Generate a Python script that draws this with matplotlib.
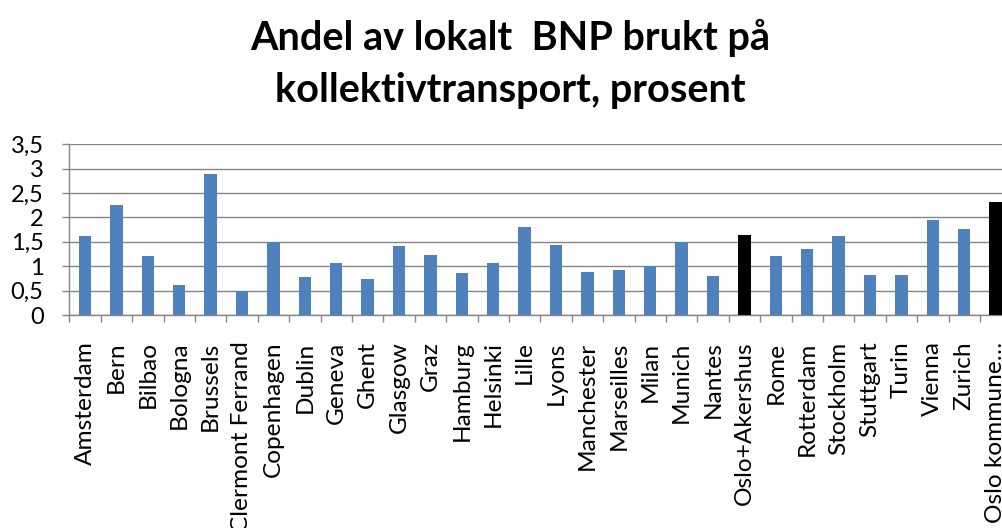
import matplotlib.pyplot as plt
from matplotlib.ticker import FixedLocator

cities = ['Amsterdam', 'Bern', 'Bilbao', 'Bologna', 'Brussels', 'Clermont Ferrand',
          'Copenhagen', 'Dublin', 'Geneva', 'Ghent', 'Glasgow', 'Graz', 'Hamburg',
          'Helsinki', 'Lille', 'Lyons', 'Manchester', 'Marseilles', 'Milan', 'Munich',
          'Nantes', 'Oslo+Akershus', 'Rome', 'Rotterdam', 'Stockholm', 'Stuttgart',
          'Turin', 'Vienna', 'Zurich', 'Oslo kommune…']
share = [1.61, 2.25, 1.20, 0.62, 2.90, 0.50, 1.50, 0.77, 1.06, 0.73, 1.41, 1.24, 0.86,
         1.06, 1.80, 1.43, 0.88, 0.93, 1.00, 1.50, 0.80, 1.65, 1.20, 1.35, 1.63, 0.82,
         0.81, 1.95, 1.76, 2.31]
highlight = ['Oslo+Akershus', 'Oslo kommune…']
y_ticks = [0, 0.5, 1, 1.5, 2, 2.5, 3, 3.5]
y_labels = ['0', '0,5', '1', '1,5', '2', '2,5', '3', '3,5']

plt.rcParams['font.family'] = ['Lato', 'DejaVu Sans']
grey = '#868686'

fig = plt.figure(figsize=(10.03, 5.28), dpi=100)
ax = fig.add_axes([69.3 / 1003, 213 / 528, 942 / 1003, 170.7 / 528])

colors = ['#000000' if c in highlight else '#4F81BD' for c in cities]
x = list(range(len(cities)))
ax.bar(x, share, width=0.4, color=colors, zorder=3)

ax.set_xlim(-0.5, len(cities) - 0.5)
ax.set_ylim(0, 3.5)
ax.set_yticks(y_ticks)
ax.set_yticklabels(y_labels)
ax.set_xticks(x)
ax.set_xticklabels(cities, rotation=90)
ax.xaxis.set_minor_locator(FixedLocator([i - 0.5 for i in range(len(cities) + 1)]))

ax.grid(axis='y', color=grey, linewidth=1.0, zorder=0)
ax.tick_params(axis='y', length=5, width=1, color=grey, pad=13.5, labelsize=17)
ax.tick_params(axis='x', which='major', length=0, pad=19, labelsize=17.6)
ax.tick_params(axis='x', which='minor', length=5, width=1, color=grey)

for side in ['top', 'right']:
    ax.spines[side].set_visible(False)
for side in ['left', 'bottom']:
    ax.spines[side].set_color(grey)
    ax.spines[side].set_linewidth(1.0)

# title: two centred lines, a bit below the top edge
fig.text(510 / 1003, 1 - 19 / 528, 'Andel av lokalt  BNP brukt på\nkollektivtransport, prosent',
         ha='center', va='top', fontsize=28.5, fontweight='bold', linespacing=1.5)

fig.savefig('out.png', dpi=100)
